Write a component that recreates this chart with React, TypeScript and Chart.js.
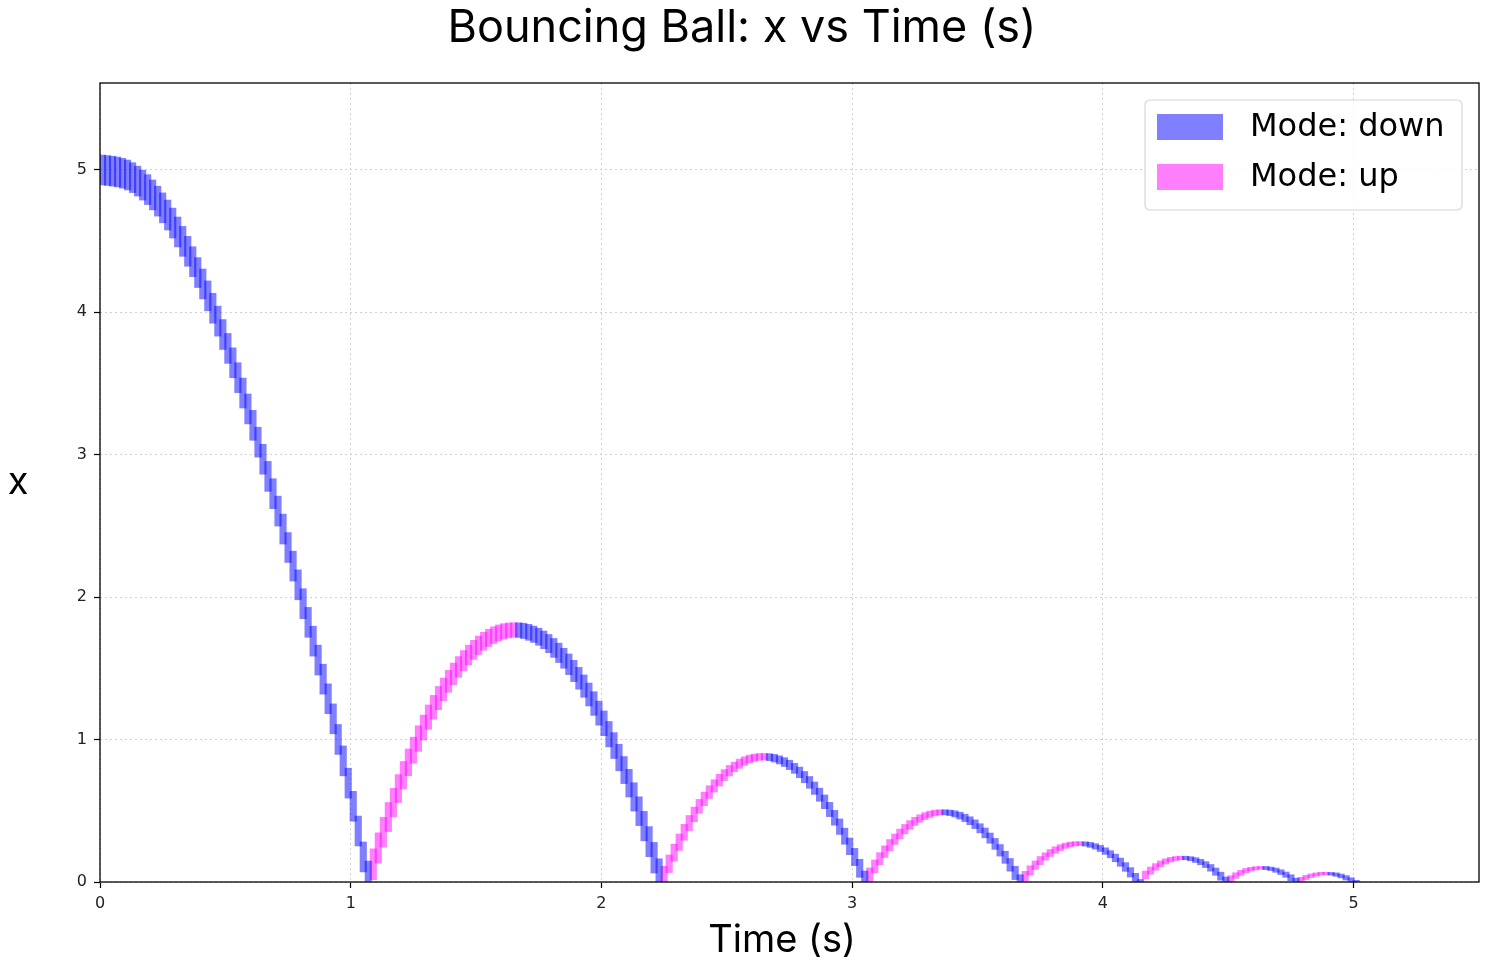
import { useEffect, useRef } from "react";
import { Chart, registerables } from "chart.js";
import type { Chart as ChartJS, Plugin } from "chart.js";

Chart.register(...registerables);

// time step between samples (s)
const STEP = 0.02;

const xTicks = [0, 1, 2, 3, 4, 5];
const yTicks = [0, 1, 2, 3, 4, 5];
const legendLabels = ["Mode: down", "Mode: up"];

// x, one value per sample
const fall0 = [
  5.0, 4.998, 4.993, 4.989, 4.982, 4.971, 4.957, 4.934, 4.908, 4.878, 4.845, 4.803, 4.758, 4.709,
  4.657, 4.596, 4.532, 4.464, 4.393, 4.318, 4.24, 4.158, 4.073, 3.984, 3.892, 3.796, 3.697, 3.594,
  3.488, 3.378, 3.265, 3.148, 3.028, 2.909, 2.787, 2.666, 2.542, 2.414, 2.283, 2.153, 2.02, 1.888,
  1.758, 1.624, 1.492, 1.356, 1.217, 1.074, 0.928, 0.773, 0.615, 0.448, 0.268, 0.084,
];
const arc1Up = [
  0.066, 0.183, 0.295, 0.404, 0.508, 0.608, 0.704, 0.796, 0.884, 0.967, 1.047, 1.122, 1.193, 1.26,
  1.323, 1.382, 1.436, 1.487, 1.533, 1.575, 1.613, 1.647, 1.677, 1.703, 1.724, 1.742, 1.755, 1.764,
  1.769,
];
const arc1Down = [
  1.77, 1.767, 1.759, 1.747, 1.732, 1.712, 1.688, 1.66, 1.627, 1.591, 1.551, 1.506, 1.457, 1.404,
  1.347, 1.286, 1.22, 1.151, 1.077, 0.999, 0.917, 0.831, 0.741, 0.647, 0.548, 0.446, 0.339, 0.228,
  0.113,
];
const arc2Up = [
  0.004, 0.088, 0.168, 0.244, 0.315, 0.383, 0.445, 0.504, 0.558, 0.609, 0.654, 0.696, 0.734, 0.767,
  0.796, 0.82, 0.841, 0.857, 0.869, 0.876, 0.88,
];
const arc2Down = [
  0.879, 0.874, 0.864, 0.851, 0.833, 0.811, 0.785, 0.754, 0.719, 0.68, 0.637, 0.589, 0.537, 0.481,
  0.421, 0.356, 0.287, 0.214, 0.137, 0.055,
];
const arc3Up = [
  0.022, 0.082, 0.138, 0.189, 0.237, 0.281, 0.32, 0.355, 0.387, 0.414, 0.437, 0.455, 0.47, 0.481,
  0.488,
];
const arc3Down = [
  0.49, 0.488, 0.483, 0.473, 0.459, 0.441, 0.419, 0.392, 0.362, 0.327, 0.289, 0.246, 0.199, 0.148,
  0.093, 0.034,
];
const arc4Up = [0.02, 0.062, 0.101, 0.135, 0.166, 0.192, 0.215, 0.234, 0.249, 0.26, 0.267, 0.27];
const arc4Down = [0.269, 0.265, 0.256, 0.244, 0.227, 0.207, 0.183, 0.155, 0.123, 0.088, 0.048, 0.005];
const arc5Up = [0.033, 0.066, 0.094, 0.118, 0.137, 0.152, 0.162, 0.168];
const arc5Down = [0.17, 0.167, 0.16, 0.148, 0.132, 0.112, 0.087, 0.058, 0.024];
const arc6Up = [0.01, 0.035, 0.056, 0.073, 0.086, 0.094, 0.099];
const arc6Down = [0.1, 0.096, 0.089, 0.077, 0.061, 0.042, 0.018];
const arc7Up = [0.007, 0.025, 0.039, 0.049, 0.056, 0.06];
const arc7Down = [0.059, 0.056, 0.048, 0.037, 0.022, 0.004];

type Segment = { mode: "down" | "up"; arc: number; start: number; values: number[] };

const segments: Segment[] = [
  { mode: "down", arc: 0, start: 0, values: fall0 },
  { mode: "up", arc: 1, start: 1.08, values: arc1Up },
  { mode: "down", arc: 1, start: 1.66, values: arc1Down },
  { mode: "up", arc: 2, start: 2.24, values: arc2Up },
  { mode: "down", arc: 2, start: 2.66, values: arc2Down },
  { mode: "up", arc: 3, start: 3.06, values: arc3Up },
  { mode: "down", arc: 3, start: 3.36, values: arc3Down },
  { mode: "up", arc: 4, start: 3.68, values: arc4Up },
  { mode: "down", arc: 4, start: 3.92, values: arc4Down },
  { mode: "up", arc: 5, start: 4.16, values: arc5Up },
  { mode: "down", arc: 5, start: 4.32, values: arc5Down },
  { mode: "up", arc: 6, start: 4.5, values: arc6Up },
  { mode: "down", arc: 6, start: 4.64, values: arc6Down },
  { mode: "up", arc: 7, start: 4.78, values: arc7Up },
  { mode: "down", arc: 7, start: 4.9, values: arc7Down },
];

// thickness of the boxes per bounce
const arcMinHalf = [0.105, 0, 0, 0, 0, 0, 0, 0];
const arcPad = [0, 0.05, 0.022, 0.017, 0.013, 0.011, 0.009, 0.008];

const DOWN_COLOR = "rgba(0, 0, 255, 0.5)";
const UP_COLOR = "rgba(255, 0, 255, 0.5)";

type Sample = { t: number; x: number; mode: string; arc: number };

const buildBars = () => {
  const samples: Sample[] = [];
  segments.forEach((s) =>
    s.values.forEach((x, i) =>
      samples.push({ t: Math.round((s.start + i * STEP) * 1000) / 1000, x, mode: s.mode, arc: s.arc })
    )
  );
  const down: { x: number; y: [number, number] }[] = [];
  const up: { x: number; y: [number, number] }[] = [];
  samples.forEach((s, j) => {
    const next = samples[j + 1];
    const nx = next && next.arc === s.arc ? next.x : 0;
    const half = Math.max(arcMinHalf[s.arc], Math.abs(s.x - nx) / 2 + arcPad[s.arc]);
    const c = (s.x + nx) / 2;
    const bar = { x: s.t + STEP / 2, y: [Math.max(0, c - half), c + half] as [number, number] };
    (s.mode === "down" ? down : up).push(bar);
  });
  return { down, up };
};

const FONT = "Inter, 'DejaVu Sans', sans-serif";

const decorPlugin: Plugin<"bar"> = {
  id: "decor",
  afterDraw(chart) {
    const { ctx, chartArea } = chart;
    ctx.save();
    // frame
    ctx.strokeStyle = "#000";
    ctx.lineWidth = 1.3;
    ctx.strokeRect(chartArea.left, chartArea.top, chartArea.right - chartArea.left, chartArea.bottom - chartArea.top);

    // title and axis labels
    ctx.fillStyle = "#000";
    ctx.textAlign = "center";
    ctx.textBaseline = "middle";
    ctx.font = `400 45px ${FONT}`;
    ctx.fillText("Bouncing Ball: x vs Time (s)", 742, 28);
    ctx.font = `400 38px ${FONT}`;
    ctx.fillText("Time (s)", 782, 941);
    ctx.fillText("x", 18, 483);

    // legend
    const lx = 1145;
    const ly = 100;
    const lw = 317;
    const lh = 110;
    ctx.beginPath();
    ctx.roundRect(lx, ly, lw, lh, 5);
    ctx.fillStyle = "rgba(255,255,255,0.85)";
    ctx.fill();
    ctx.strokeStyle = "#d6d6d6";
    ctx.lineWidth = 1.2;
    ctx.stroke();
    const colors = [DOWN_COLOR, UP_COLOR];
    ctx.font = `32px 'DejaVu Sans', sans-serif`;
    ctx.textAlign = "left";
    legendLabels.forEach((label, i) => {
      const cy = 127 + i * 50;
      ctx.fillStyle = colors[i];
      ctx.fillRect(1157, cy - 13, 66, 26);
      ctx.fillStyle = "#000";
      ctx.fillText(label, 1250, cy + 1);
    });
    ctx.restore();
  },
};

export default function App() {
  const canvasRef = useRef<HTMLCanvasElement>(null);
  const chartRef = useRef<ChartJS<"bar"> | null>(null);

  useEffect(() => {
    if (!canvasRef.current) return;
    chartRef.current?.destroy();
    const { down, up } = buildBars();

    chartRef.current = new Chart(canvasRef.current, {
      type: "bar",
      data: {
        datasets: [
          { label: legendLabels[0], data: down as any, backgroundColor: DOWN_COLOR, borderWidth: 0, barThickness: 6.5, grouped: false },
          { label: legendLabels[1], data: up as any, backgroundColor: UP_COLOR, borderWidth: 0, barThickness: 6.5, grouped: false },
        ],
      },
      options: {
        responsive: false,
        animation: false,
        devicePixelRatio: 1,
        layout: { padding: { left: 0, top: 83, right: 16, bottom: 46 } },
        plugins: { legend: { display: false }, title: { display: false }, tooltip: { enabled: false } },
        scales: {
          x: {
            type: "linear",
            min: 0,
            max: 5.5,
            offset: false,
            afterFit: (scale) => {
              scale.height = 40;
            },
            afterBuildTicks: (scale) => {
              scale.ticks = xTicks.map((v) => ({ value: v }));
            },
            grid: { offset: false, color: "#d0d0d0", lineWidth: 1, tickLength: 6, tickColor: "#000", tickWidth: 1.2 },
            border: { display: false, dash: [2, 3] },
            ticks: { color: "#222", font: { family: "'DejaVu Sans', sans-serif", size: 16 }, padding: 6, maxRotation: 0 },
          },
          y: {
            type: "linear",
            min: 0,
            max: 5.61,
            afterFit: (scale) => {
              scale.width = 100;
            },
            afterBuildTicks: (scale) => {
              scale.ticks = yTicks.map((v) => ({ value: v }));
            },
            grid: { color: "#d0d0d0", lineWidth: 1, tickLength: 6, tickColor: "#000", tickWidth: 1.2 },
            border: { display: false, dash: [2, 3] },
            ticks: { color: "#222", font: { family: "'DejaVu Sans', sans-serif", size: 16 }, padding: 7 },
          },
        },
      },
      plugins: [decorPlugin],
    });

    return () => {
      chartRef.current?.destroy();
      chartRef.current = null;
    };
  }, []);

  return (
    <div style={{ position: "fixed", left: 0, top: 0, width: 1495, height: 968, background: "#fff" }}>
      <canvas ref={canvasRef} width={1495} height={968} style={{ width: 1495, height: 968 }} />
    </div>
  );
}
